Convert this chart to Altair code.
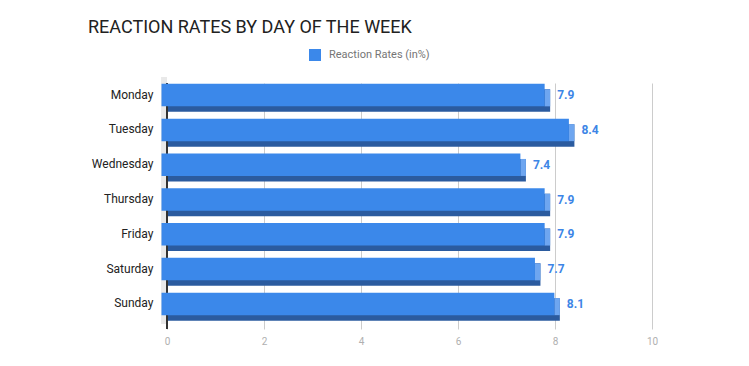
import altair as alt
import pandas as pd

days = ["Monday", "Tuesday", "Wednesday", "Thursday", "Friday", "Saturday", "Sunday"]
rates = [7.9, 8.4, 7.4, 7.9, 7.9, 7.7, 8.1]
series_name = "Reaction Rates (in%)"
tick_values = [0, 2, 4, 6, 8, 10]

df = pd.DataFrame({"day": days, "rate": rates, "series": [series_name] * len(days)})

W, H = 485, 246
D = 5.5  # 3D depth in px
P_IN, P_OUT = 0.3534, 0.211
STEP = H / (len(days) - P_IN + 2 * P_OUT)
B = STEP * (1 - P_IN)

FRONT = "#3b88ea"
BOTTOM = "#2b5b9f"
SIDE = "#6ea6f0"
WALL = "#e9e9e9"

y_enc = alt.Y(
    "day:N", sort=days,
    scale=alt.Scale(paddingInner=P_IN, paddingOuter=P_OUT),
    axis=alt.Axis(title=None, domain=False, ticks=False, labelPadding=14,
                  labelOffset=-7, labelFont="Roboto", labelFontSize=12,
                  labelColor="#222222"),
)
x_scale = alt.Scale(domain=[0, 10], nice=False)
x_enc = alt.X(
    "rate:Q", scale=x_scale,
    axis=alt.Axis(title=None, values=tick_values, domain=False, ticks=False,
                  grid=True, gridColor="#cccccc", labelColor="#b0b0b0",
                  labelFontSize=10, labelPadding=7, labelFont="Roboto",
                  labelFlush=False),
)

base = alt.Chart(df)

back = base.mark_bar(color=BOTTOM, size=B, yOffset=-1).encode(x=x_enc, y=y_enc)

wall = base.mark_rect(color=WALL, xOffset=-D, x2Offset=0).encode(
    x=alt.datum(0), x2=alt.datum(0), y=alt.value(-6), y2=alt.value(H - 5)
)
zero_rule = base.mark_rule(color="#333333", strokeWidth=1).encode(x=alt.datum(0))

side = base.mark_bar(color=SIDE, size=B - D, yOffset=-D / 2 - 1, xOffset=-D, x2Offset=0).encode(
    x=alt.X("rate:Q", scale=x_scale), x2=alt.X2("rate"), y=alt.Y("day:N", sort=days)
)

front = base.mark_bar(size=B, xOffset=-D, x2Offset=-D, yOffset=-D - 1).encode(
    x=alt.X("rate:Q", scale=x_scale),
    y=alt.Y("day:N", sort=days),
    color=alt.Color(
        "series:N",
        scale=alt.Scale(range=[FRONT]),
        legend=alt.Legend(title=None, orient="none", legendX=142, legendY=-34,
                          symbolType="square", symbolSize=144, symbolStrokeWidth=0,
                          labelFont="Roboto", labelFontSize=11, labelColor="#757575",
                          labelOffset=8, padding=0),
    ),
)

labels = base.mark_text(align="left", baseline="middle", dx=7, dy=-D - 1,
                        fontWeight="bold", fontSize=12, font="Roboto",
                        color="#3d85e6").encode(
    x=alt.X("rate:Q", scale=x_scale), y=alt.Y("day:N", sort=days),
    text=alt.Text("rate:Q", format=".1f"),
)

chart = alt.layer(back, wall, zero_rule, side, front, labels).properties(
    width=W, height=H,
    title=alt.TitleParams("REACTION RATES BY DAY OF THE WEEK", anchor="start",
                          frame="group", dx=-79, dy=1.5, font="Roboto", fontSize=18,
                          fontWeight="normal", color="#212121", offset=14),
    autosize=alt.AutoSizeParams(type="none"),
    padding={"left": 159, "top": 75, "right": 89, "bottom": 25},
).configure_view(stroke=None)

chart.save("out.html", embed_options={"renderer": "svg", "actions": False})
